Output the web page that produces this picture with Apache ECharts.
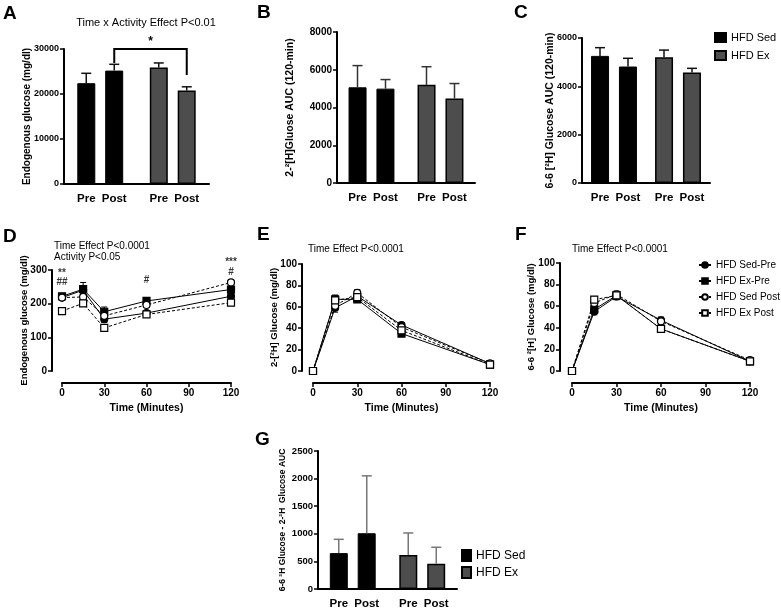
<!DOCTYPE html>
<html>
<head>
<meta charset="utf-8">
<script src="https://cdn.jsdelivr.net/npm/echarts@6/dist/echarts.min.js"></script>
<style>
  html, body { margin: 0; background: #fff; }
  #chart { width: 781px; height: 608px; }
</style>
</head>
<body>
<div id="chart"></div>
<script>
// categories
const groups = ['HFD Sed', 'HFD Ex']
const phases = ['Pre', 'Post']
const times = [0, 15, 30, 60, 120]
const lineNames = ['HFD Sed-Pre', 'HFD Ex-Pre', 'HFD Sed Post', 'HFD Ex Post']

// A 内源葡萄糖 AUC, [Sed, Ex]
const endoPre = [22400, 25900]
const endoPost = [25200, 20800]
const endoPreSd = [2200, 1000]
const endoPostSd = [1400, 800]
// B 2-2H AUC
const auc2Pre = [5070, 5200]
const auc2Post = [5000, 4480]
const auc2PreSd = [1150, 960]
const auc2PostSd = [480, 790]
// C 6-6 2H AUC
const auc66Pre = [5260, 5200]
const auc66Post = [4820, 4570]
const auc66PreSd = [340, 300]
const auc66PostSd = [340, 175]
// G 差值 AUC
const diffPre = [650, 615]
const diffPost = [1010, 456]
const diffPreSd = [250, 400]
const diffPostSd = [1040, 300]

// D 内源葡萄糖曲线
const endoSedPre = [218, 240, 154, 172, 222]
const endoExPre = [222, 243, 176, 208, 242]
const endoSedPost = [218, 220, 164, 196, 263]
const endoExPost = [178, 201, 128, 168, 203]
const endoSedPreSd = [6, 14, 10, 6, 6]
const endoExPreSd = [8, 20, 14, 6, 8]
const endoSedPostSd = [6, 10, 10, 6, 6]
const endoExPostSd = [6, 8, 8, 6, 6]
// D 显著性标注 [time, level, mark]
const endoMarks = [[0, 291, '**'], [0, 264, '##'], [60, 270, '#'], [120, 323, '***'], [120, 294, '#']]

// E 2-[2H] glucose
const g2SedPre = [0, 59, 70, 43, 7]
const g2ExPre = [0, 67, 67, 35, 6]
const g2SedPost = [0, 61, 73, 41, 7]
const g2ExPost = [0, 66, 69, 38, 6]
const g2Sd = [0, 4, 3, 2, 1]

// F 6-6 2H glucose
const g66SedPre = [0, 55, 69, 47, 9]
const g66ExPre = [0, 57, 70, 39, 9]
const g66SedPost = [0, 63, 71, 46, 10]
const g66ExPost = [0, 66, 70, 39, 9]
const g66Sd = [0, 3, 3, 3, 1]

const FONT = '"Liberation Sans", Arial, sans-serif'
const BOLD = { fontFamily: FONT, fontWeight: 'bold', color: '#000' }
const AXIS_LINE = { show: true, onZero: false, lineStyle: { color: '#000', width: 2 } }
const barStyles = [
  { color: '#000', borderColor: '#000', borderWidth: 1 },
  { color: '#4d4d4d', borderColor: '#000', borderWidth: 1.5 }
]

const grid = []
const xAxis = []
const yAxis = []
const series = []

// 柱状误差线（只画上方）
const barErr = (offset, color) => (params, api) => {
  const base = api.coord([api.value(0), api.value(1)])
  const top = api.coord([api.value(0), api.value(1) + api.value(2)])
  const x = base[0] + offset
  const style = { stroke: color, lineWidth: 1.5 }
  return {
    type: 'group',
    children: [
      { type: 'line', shape: { x1: x, y1: base[1], x2: x, y2: top[1] }, style },
      { type: 'line', shape: { x1: x - 5, y1: top[1], x2: x + 5, y2: top[1] }, style }
    ]
  }
}

// 折线误差线
const lineErr = (params, api) => {
  const lo = api.coord([api.value(0), api.value(1) - api.value(2)])
  const hi = api.coord([api.value(0), api.value(1) + api.value(2)])
  const style = { stroke: '#000', lineWidth: 1 }
  return {
    type: 'group',
    children: [
      { type: 'line', shape: { x1: lo[0], y1: lo[1], x2: hi[0], y2: hi[1] }, style },
      { type: 'line', shape: { x1: hi[0] - 3, y1: hi[1], x2: hi[0] + 3, y2: hi[1] }, style },
      { type: 'line', shape: { x1: lo[0] - 3, y1: lo[1], x2: lo[0] + 3, y2: lo[1] }, style }
    ]
  }
}

const yAxisBase = (i, max, interval, name, nameGap, nameSize, labelSize, offset = 0) => ({
  gridIndex: i,
  type: 'value',
  min: 0,
  max,
  interval,
  offset,
  name,
  nameLocation: 'middle',
  nameGap,
  nameMoveOverlap: false,
  nameTextStyle: { ...BOLD, fontSize: nameSize },
  axisLine: AXIS_LINE,
  axisTick: { show: true, length: 4, lineStyle: { color: '#000', width: 1.5 } },
  axisLabel: { ...BOLD, fontSize: labelSize, margin: 5, formatter: v => String(v) },
  splitLine: { show: false }
})

const barPanel = (box, pre, post, preSd, postSd, max, interval, name, nameGap, nameSize, labelSize, errColor) => {
  const i = grid.length
  grid.push({ left: box[0], top: box[1], width: box[2], height: box[3] })
  xAxis.push({
    gridIndex: i,
    type: 'category',
    data: groups,
    axisLine: AXIS_LINE,
    axisTick: { show: false },
    axisLabel: { show: false }
  })
  yAxis.push(yAxisBase(i, max, interval, name, nameGap, nameSize, labelSize))
  ;[[pre, preSd], [post, postSd]].forEach(([vals, sds], k) => {
    series.push({
      type: 'bar',
      name: phases[k],
      xAxisIndex: i,
      yAxisIndex: i,
      barWidth: 18,
      barGap: '55%',
      data: vals.map((v, g) => ({ value: v, itemStyle: barStyles[g] })),
      label: { show: true, position: 'bottom', distance: 9, formatter: '{a}', ...BOLD, fontSize: 11.5 },
      silent: true,
      z: 2
    })
    series.push({
      type: 'custom',
      xAxisIndex: i,
      yAxisIndex: i,
      encode: { x: 0, y: 1 },
      data: vals.map((v, g) => [g, v, sds[g]]),
      renderItem: barErr(k ? 14 : -14, errColor),
      silent: true,
      z: 3
    })
  })
  return i
}

const linePanel = (box, sets, sds, max, interval, name, nameGap, yOffset) => {
  const i = grid.length
  grid.push({ left: box[0], top: box[1], width: box[2], height: box[3] })
  xAxis.push({
    gridIndex: i,
    type: 'value',
    min: 0,
    max: 120,
    interval: 30,
    offset: 12,
    name: 'Time (Minutes)',
    nameLocation: 'middle',
    nameGap: 20,
    nameMoveOverlap: false,
    nameTextStyle: { ...BOLD, fontSize: 10.5 },
    axisLine: AXIS_LINE,
    axisTick: { show: true, length: 4, lineStyle: { color: '#000', width: 1.5 } },
    axisLabel: { ...BOLD, fontSize: 10, margin: 5 },
    splitLine: { show: false }
  })
  yAxis.push(yAxisBase(i, max, interval, name, nameGap, 9.5, 10, yOffset))
  sets.forEach((vals, k) => {
    const post = k > 1
    const square = k % 2 === 1
    series.push({
      type: 'custom',
      xAxisIndex: i,
      yAxisIndex: i,
      encode: { x: 0, y: 1 },
      data: times.map((t, j) => [t, vals[j], sds[k][j]]),
      renderItem: lineErr,
      silent: true,
      z: 2
    })
    series.push({
      type: 'line',
      name: lineNames[k],
      xAxisIndex: i,
      yAxisIndex: i,
      data: times.map((t, j) => [t, vals[j]]),
      symbol: square ? 'rect' : 'circle',
      symbolSize: 7,
      lineStyle: { color: '#000', width: 1, type: post ? [3, 2] : 'solid' },
      itemStyle: { color: post ? '#fff' : '#000', borderColor: '#000', borderWidth: 1.2 },
      silent: true,
      z: 3
    })
  })
  return i
}

// A
const gA = barPanel([64, 49, 145, 135], endoPre, endoPost, endoPreSd, endoPostSd,
  30000, 10000, 'Endogenous glucose (mg/dl)', 32, 10, 9, '#111')
// A 显著性括号: [from group, to group, level, left end, right end]
series.push({
  type: 'custom',
  xAxisIndex: gA,
  yAxisIndex: gA,
  encode: { x: 0, y: 2 },
  data: [[0, 1, 30000, 26900, 24200, '*']],
  renderItem: (params, api) => {
    const l = api.coord([api.value(0), api.value(2)])
    const r = api.coord([api.value(1), api.value(2)])
    const le = api.coord([api.value(0), api.value(3)])
    const re = api.coord([api.value(1), api.value(4)])
    const xl = l[0] + 14
    const xr = r[0] + 14
    return {
      type: 'group',
      children: [
        { type: 'polyline', shape: { points: [[xl, le[1]], [xl, l[1]], [xr, l[1]], [xr, re[1]]] },
          style: { stroke: '#000', lineWidth: 2, fill: null } },
        { type: 'text', x: (xl + xr) / 2, y: l[1] - 1,
          style: { text: api.value(5), align: 'center', verticalAlign: 'bottom', font: 'bold 12px ' + FONT, fill: '#000' } }
      ]
    }
  },
  silent: true,
  z: 4
})

// B
barPanel([337, 32, 138, 151], auc2Pre, auc2Post, auc2PreSd, auc2PostSd,
  8000, 2000, '2-²[H]Gluose AUC (120-min)', 41, 10.5, 10, '#333')
// C
barPanel([582, 38, 128, 145], auc66Pre, auc66Post, auc66PreSd, auc66PostSd,
  6000, 2000, '6-6 [²H] Glucose AUC (120-min)', 26, 10.5, 9, '#111')
// D
const gD = linePanel([62, 270, 169, 101], [endoSedPre, endoExPre, endoSedPost, endoExPost],
  [endoSedPreSd, endoExPreSd, endoSedPostSd, endoExPostSd], 300, 100, 'Endogenous glucose (mg/dl)', 23, 10)
series.push({
  type: 'scatter',
  xAxisIndex: gD,
  yAxisIndex: gD,
  data: endoMarks,
  symbolSize: 0,
  clip: false,
  label: { show: true, position: 'inside', formatter: p => p.value[2], ...BOLD, fontSize: 10 },
  silent: true,
  z: 5
})
// E
linePanel([313, 264, 177, 107], [g2SedPre, g2ExPre, g2SedPost, g2ExPost],
  [g2Sd, g2Sd, g2Sd, g2Sd], 100, 20, '2-[²H] Glucose (mg/dl)', 23, 11)
// F
linePanel([572, 263, 178, 108], [g66SedPre, g66ExPre, g66SedPost, g66ExPost],
  [g66Sd, g66Sd, g66Sd, g66Sd], 100, 20, '6-6 ²[H] Glucose (mg/dl)', 24, 12)
// G
barPanel([318, 451, 139, 138], diffPre, diffPost, diffPreSd, diffPostSd,
  2500, 500, '6-6 ²H Glucose - 2-²H  Glucose AUC', 31, 8.5, 9.5, '#777')

// 图例用的空系列（放在隐藏网格里，不影响柱子分组）
const gL = grid.length
grid.push({ left: 0, top: 0, width: 1, height: 1, show: false })
xAxis.push({ gridIndex: gL, type: 'category', data: ['-'], show: false })
yAxis.push({ gridIndex: gL, type: 'value', show: false })
groups.forEach((g, k) => {
  series.push({ type: 'bar', name: g, xAxisIndex: gL, yAxisIndex: gL, data: [], itemStyle: barStyles[k] })
})

const legendText = { fontFamily: FONT, fontSize: 11, color: '#000' }
const legend = [
  { data: groups, orient: 'vertical', left: 709, top: 27, icon: 'rect', itemWidth: 11, itemHeight: 9,
    itemGap: 7, selectedMode: false, textStyle: legendText },
  { data: groups, orient: 'vertical', left: 456, top: 544, icon: 'rect', itemWidth: 9, itemHeight: 11,
    itemGap: 4, selectedMode: false, textStyle: { ...legendText, fontSize: 12 } },
  { data: lineNames, orient: 'vertical', left: 693, top: 255, itemWidth: 12, itemHeight: 7,
    itemGap: 6, selectedMode: false, textStyle: { ...legendText, fontSize: 10 } }
]

// 面板字母和注释
const letter = (t, x, y) => ({ type: 'text', left: x, top: y, style: { text: t, font: 'bold 19px ' + FONT, fill: '#000' } })
const note = (t, x, y, align = 'left') => ({
  type: 'text', x, y, style: { text: t, align, verticalAlign: 'middle', font: '10px ' + FONT, fill: '#000' }
})
const graphic = [
  letter('A', 3, 4), letter('B', 257, 3), letter('C', 514, 3),
  letter('D', 3, 227), letter('E', 257, 225), letter('F', 515, 225), letter('G', 255, 430),
  { type: 'text', x: 146, y: 23, style: { text: 'Time x Activity Effect P<0.01', align: 'center',
    verticalAlign: 'middle', font: '11px ' + FONT, fill: '#000' } },
  note('Time Effect P<0.0001', 54, 246),
  note('Activity P<0.05', 54, 257),
  note('Time Effect P<0.0001', 308, 249),
  note('Time Effect P<0.0001', 572, 249)
]

const chart = echarts.init(document.getElementById('chart'))
chart.setOption({
  animation: false,
  backgroundColor: '#fff',
  textStyle: { fontFamily: FONT },
  grid,
  xAxis,
  yAxis,
  series,
  legend,
  graphic
})
</script>
</body>
</html>
